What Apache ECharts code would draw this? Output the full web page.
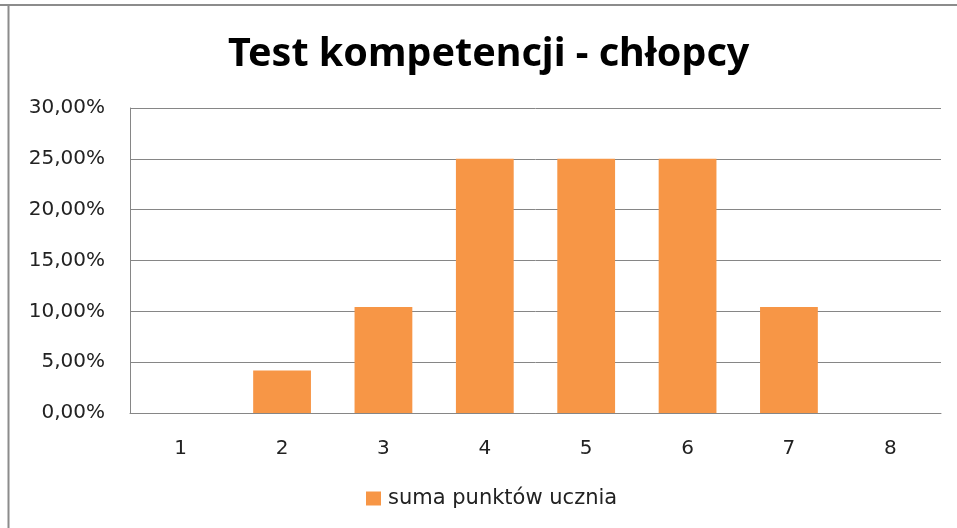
<!DOCTYPE html>
<html>
<head>
<meta charset="utf-8">
<script src="https://cdn.jsdelivr.net/npm/echarts@6/dist/echarts.min.js"></script>
<style>
  html, body { margin: 0; padding: 0; background: #fff; }
  #chart { width: 957px; height: 528px; }
</style>
</head>
<body>
<div id="chart"></div>
<script>
// punkty (kategorie) i udział uczniów
var categories = ['1', '2', '3', '4', '5', '6', '7', '8'];
var shares = [0, 4.17, 10.42, 25, 25, 25, 10.42, 0];
var yTicks = [0, 5, 10, 15, 20, 25, 30];
var seriesName = 'suma punktów ucznia';

var labelFont = 'DejaVu Sans';

var chart = echarts.init(document.getElementById('chart'));

var option = {
  backgroundColor: '#ffffff',
  animation: false,
  title: {
    text: 'Test kompetencji - chłopcy',
    left: 223,
    top: 30,
    textStyle: {
      fontFamily: 'Noto Sans',
      fontSize: 39.5,
      fontWeight: 'bold',
      color: '#000'
    }
  },
  graphic: [
    // ramka wykresu (góra i lewa krawędź)
    { type: 'line', shape: { x1: 0, y1: 5, x2: 957, y2: 5 }, style: { stroke: '#8c8c8c', lineWidth: 2 } },
    { type: 'line', shape: { x1: 8.5, y1: 5, x2: 8.5, y2: 528 }, style: { stroke: '#8c8c8c', lineWidth: 2 } }
  ],
  grid: { left: 130, right: 16, top: 108, bottom: 115 },
  legend: {
    top: 483,
    left: 361,
    itemWidth: 15,
    itemHeight: 14,
    icon: 'rect',
    itemGap: 6,
    textStyle: { fontFamily: labelFont, fontSize: 21, color: '#222', padding: [0, 0, 0, 2] },
    data: [seriesName]
  },
  xAxis: {
    type: 'category',
    data: categories,
    axisLine: { lineStyle: { color: '#868686' } },
    axisTick: { show: false },
    axisLabel: { fontFamily: labelFont, fontSize: 20, color: '#222', margin: 26 }
  },
  yAxis: {
    type: 'value',
    min: yTicks[0],
    max: yTicks[yTicks.length - 1],
    interval: 5,
    axisLine: { show: true, lineStyle: { color: '#868686' } },
    axisTick: { show: false },
    splitLine: { lineStyle: { color: '#868686' } },
    axisLabel: {
      fontFamily: labelFont,
      fontSize: 20,
      color: '#222',
      margin: 25,
      formatter: function (v) { return v.toFixed(2).replace('.', ',') + '%'; }
    }
  },
  series: [{
    name: seriesName,
    type: 'bar',
    data: shares,
    barWidth: '57%',
    itemStyle: { color: '#F79646' }
  }]
};

chart.setOption(option);
</script>
</body>
</html>
